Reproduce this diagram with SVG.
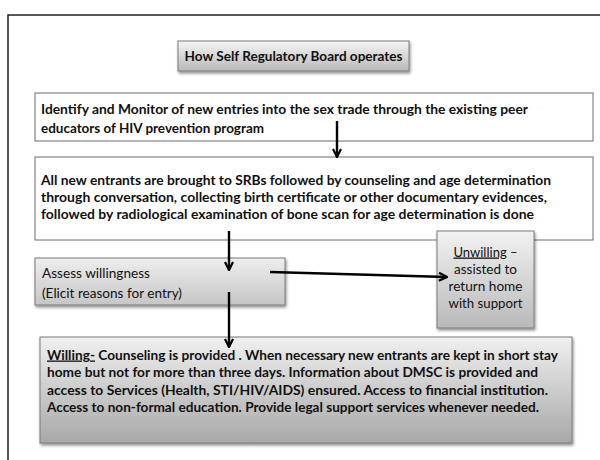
<svg xmlns="http://www.w3.org/2000/svg" width="600" height="460" viewBox="0 0 600 460">
<defs>
<linearGradient id="gTitle" x1="0" y1="0" x2="0" y2="1"><stop offset="0" stop-color="#f6f6f6"/><stop offset="1" stop-color="#b8b8b8"/></linearGradient>
<linearGradient id="gAssess" x1="0" y1="0" x2="0" y2="1"><stop offset="0" stop-color="#eeeeee"/><stop offset="1" stop-color="#c6c6c6"/></linearGradient>
<linearGradient id="gUnw" x1="0" y1="0" x2="0" y2="1"><stop offset="0" stop-color="#f2f2f2"/><stop offset="1" stop-color="#b9b9b9"/></linearGradient>
<linearGradient id="gWill" x1="0" y1="0" x2="0" y2="1"><stop offset="0" stop-color="#f0f0f0"/><stop offset="1" stop-color="#a8a8a8"/></linearGradient>
<filter id="sh" x="-10%" y="-10%" width="130%" height="140%"><feGaussianBlur in="SourceAlpha" stdDeviation="1.5"/><feOffset dx="1" dy="2" result="b"/><feComponentTransfer><feFuncA type="linear" slope="0.45"/></feComponentTransfer><feMerge><feMergeNode/><feMergeNode in="SourceGraphic"/></feMerge></filter>
<marker id="ah" viewBox="0 0 10 10" refX="9" refY="5" markerWidth="4.2" markerHeight="4.2" orient="auto" markerUnits="strokeWidth"><path d="M1,1 L9,5 L1,9" fill="none" stroke="#000" stroke-width="2.2" stroke-linejoin="miter"/></marker>
<style>
.t{font-family:Lato,"Liberation Sans",sans-serif;font-size:13px;fill:#111}
.b{font-weight:bold}
.plain{fill:#fff;stroke:#6a6a6a;stroke-width:1}
.grey{stroke:#7a7a7a;stroke-width:1}
.conn{stroke:#000;stroke-width:2.4;fill:none;marker-end:url(#ah)}
</style>
</defs>
<rect x="0" y="0" width="600" height="460" fill="#fff"/>
<rect x="8" y="15" width="700" height="500" fill="#fff" stroke="#222" stroke-width="1.5"/>

<g id="title">
<rect x="178" y="41" width="231" height="30" fill="url(#gTitle)" class="grey" filter="url(#sh)"/>
<text class="t b" x="293.5" y="60.5" text-anchor="middle" textLength="218" lengthAdjust="spacingAndGlyphs">How Self Regulatory Board operates</text>
</g>

<g id="identify">
<rect x="35" y="93" width="558" height="48" class="plain"/>
<text class="t b" x="41" y="113.5" textLength="487" lengthAdjust="spacingAndGlyphs">Identify and Monitor  of new entries into the sex trade  through  the existing  peer</text>
<text class="t b" x="41" y="132.5" textLength="223" lengthAdjust="spacingAndGlyphs">educators of HIV prevention program</text>
</g>

<g id="entrants">
<rect x="35" y="157" width="558" height="83" class="plain"/>
<text class="t b" x="41" y="184.5" textLength="510" lengthAdjust="spacingAndGlyphs">All new entrants are brought  to SRBs followed by counseling  and age determination</text>
<text class="t b" x="41" y="201.5" textLength="506" lengthAdjust="spacingAndGlyphs">through  conversation, collecting birth certificate or other documentary evidences,</text>
<text class="t b" x="41" y="218.5" textLength="493" lengthAdjust="spacingAndGlyphs">followed by radiological examination of  bone  scan for age determination  is done</text>
</g>

<g id="assess">
<rect x="35" y="258" width="250" height="47" fill="url(#gAssess)" class="grey" filter="url(#sh)"/>
<text class="t" x="42" y="277.5" textLength="108" lengthAdjust="spacingAndGlyphs">Assess willingness</text>
<text class="t" x="42" y="297.5" textLength="140" lengthAdjust="spacingAndGlyphs">(Elicit reasons for entry)</text>
</g>

<g id="unwilling">
<rect x="437" y="231" width="97" height="97" fill="url(#gUnw)" class="grey" filter="url(#sh)"/>
<text class="t" x="485.5" y="256.5" text-anchor="middle"><tspan text-decoration="underline">Unwilling</tspan> –</text>
<text class="t" x="485.5" y="273.5" text-anchor="middle" textLength="63" lengthAdjust="spacingAndGlyphs">assisted to</text>
<text class="t" x="485.5" y="290.5" text-anchor="middle" textLength="74" lengthAdjust="spacingAndGlyphs">return  home</text>
<text class="t" x="485.5" y="307.5" text-anchor="middle" textLength="74" lengthAdjust="spacingAndGlyphs">with support</text>
</g>

<g id="willing">
<rect x="40" y="337" width="532" height="106" fill="url(#gWill)" class="grey" filter="url(#sh)"/>
<text class="t b" x="47" y="359.5" textLength="511" lengthAdjust="spacingAndGlyphs"><tspan text-decoration="underline">Willing-</tspan> Counseling  is provided  . When  necessary new entrants are kept in  short stay</text>
<text class="t b" x="47" y="376.5" textLength="491" lengthAdjust="spacingAndGlyphs">home  but  not  for more  than  three days. Information  about  DMSC is provided  and</text>
<text class="t b" x="47" y="394.5" textLength="501" lengthAdjust="spacingAndGlyphs">access to Services (Health, STI/HIV/AIDS) ensured.   Access to financial institution.</text>
<text class="t b" x="47" y="411.5" textLength="492" lengthAdjust="spacingAndGlyphs">Access to non-formal education.  Provide legal support  services whenever needed.</text>
</g>

<g id="connectors">
<line class="conn" x1="337" y1="121" x2="337" y2="157"/>
<line class="conn" x1="229" y1="231" x2="229" y2="270"/>
<line class="conn" x1="270" y1="272" x2="447" y2="277"/>
<line class="conn" x1="229" y1="292" x2="229" y2="347"/>
</g>
</svg>
